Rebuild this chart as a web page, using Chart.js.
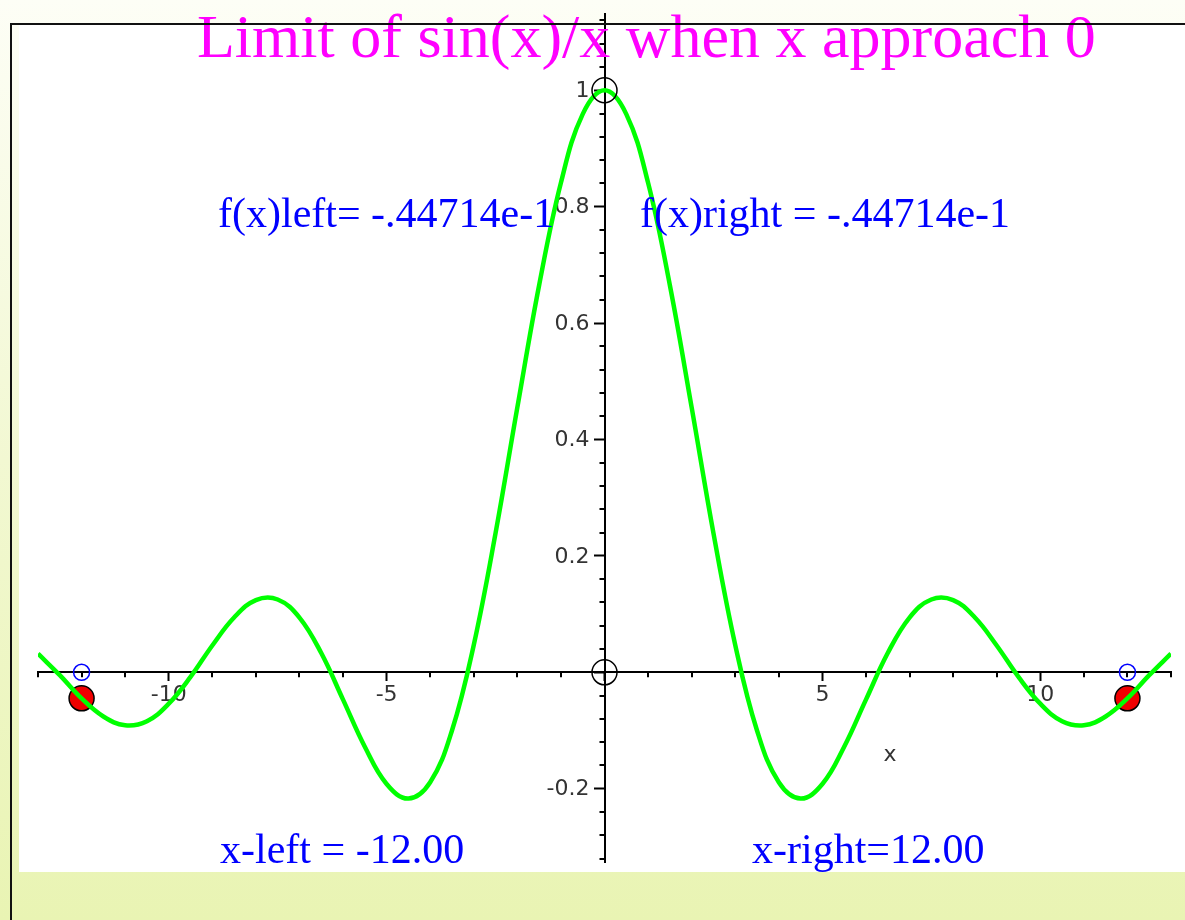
<!DOCTYPE html>
<html>
<head>
<meta charset="utf-8">
<title>Limit of sin(x)/x when x approach 0</title>
<script src="https://cdn.jsdelivr.net/npm/chart.js@4.4.1/dist/chart.umd.min.js"></script>
<style>
  html, body { margin: 0; padding: 0; background: #ffffff; }
  canvas { display: block; }
</style>
</head>
<body>
<canvas id="plot" width="1185" height="920"></canvas>
<script>
// Sample points of f(x) = sin(x)/x on [-13, 13]
const xValues = [
  -13, -12.5, -12, -11.5, -11, -10.5, -10, -9.5, -9, -8.5, -8, -7.5, -7,
  -6.5, -6, -5.5, -5, -4.5, -4, -3.5, -3, -2.5, -2, -1.5, -1, -0.5,
  0,
  0.5, 1, 1.5, 2, 2.5, 3, 3.5, 4, 4.5, 5, 5.5, 6, 6.5,
  7, 7.5, 8, 8.5, 9, 9.5, 10, 10.5, 11, 11.5, 12, 12.5, 13
];
const fValues = [
  0.032, -0.005, -0.045, -0.076, -0.091, -0.084, -0.054, -0.008, 0.046, 0.094, 0.124, 0.125, 0.094,
  0.033, -0.047, -0.128, -0.192, -0.217, -0.189, -0.100, 0.047, 0.239, 0.455, 0.665, 0.841, 0.959,
  1.000,
  0.959, 0.841, 0.665, 0.455, 0.239, 0.047, -0.100, -0.189, -0.217, -0.192, -0.128, -0.047, 0.033,
  0.094, 0.125, 0.124, 0.094, 0.046, -0.008, -0.054, -0.084, -0.091, -0.076, -0.045, -0.005, 0.032
];

// Probe positions and the function values reported for them
const xLeftText = '-12.00';
const xRightText = '12.00';
const fLeftText = '-.44714e-1';
const fRightText = '-.44714e-1';
const xLeft = Number(xLeftText);
const xRight = Number(xRightText);
const fLeft = Number(fLeftText);
const fRight = Number(fRightText);

// The limit point (0, 1) and the origin
const limitX = [0, 0];
const limitY = [1, 0];

// Axis ranges and tick steps
const xRange = [-13, 13];
const yRange = [-0.326, 1.131];
const xMajorStep = 5, xMinorStep = 1;
const yMajorStep = 0.2, yMinorStep = 0.04;

const curve = xValues.map((x, i) => ({ x: x, y: fValues[i] }));
const probes = [{ x: xLeft, y: fLeft }, { x: xRight, y: fRight }];
const probeFeet = [{ x: xLeft, y: 0 }, { x: xRight, y: 0 }];
const limitPts = limitX.map((x, i) => ({ x: x, y: limitY[i] }));

const serif = '"Liberation Serif", "Times New Roman", serif';
const sans = '"DejaVu Sans", sans-serif';
const tickFont = '22px ' + sans;

function dropPadding(scale) {
  scale.paddingTop = 0; scale.paddingBottom = 0;
  scale.paddingLeft = 0; scale.paddingRight = 0;
}

function yLabel(v) {
  return Math.abs(v) < 1e-9 ? '' : String(Number(v.toFixed(1)));
}

const backdrop = {
  id: 'backdrop',
  beforeDraw(chart) {
    const ctx = chart.ctx;
    const W = chart.width, H = chart.height;
    ctx.save();
    const g = ctx.createLinearGradient(0, 0, 0, H);
    g.addColorStop(0, '#fdfef6');
    g.addColorStop(0.5, '#f2f8d2');
    g.addColorStop(1, '#e9f4b3');
    ctx.fillStyle = g;
    ctx.fillRect(0, 0, W, H);
    ctx.fillStyle = '#ffffff';
    ctx.fillRect(19, 25, W - 19, 847);
    ctx.restore();
  },
  beforeDatasetsDraw(chart) {
    const ctx = chart.ctx;
    const xs = chart.scales.x, ys = chart.scales.y;
    const axisY = ys.getPixelForValue(0);
    const axisX = xs.getPixelForValue(0);
    ctx.save();
    // minor tick marks on both axes
    ctx.strokeStyle = '#000';
    ctx.lineWidth = 2;
    ctx.beginPath();
    for (let k = Math.ceil(xRange[0] / xMinorStep); k <= Math.floor(xRange[1] / xMinorStep); k++) {
      const v = k * xMinorStep;
      if (Math.abs(v / xMajorStep - Math.round(v / xMajorStep)) < 1e-9) continue;
      const px = Math.round(xs.getPixelForValue(v));
      ctx.moveTo(px, axisY);
      ctx.lineTo(px, axisY + 5);
    }
    for (let k = Math.ceil(yRange[0] / yMinorStep); k <= Math.floor(yRange[1] / yMinorStep); k++) {
      if (k % 5 === 0) continue;
      const py = Math.round(ys.getPixelForValue(k * yMinorStep));
      ctx.moveTo(axisX, py);
      ctx.lineTo(axisX - 5, py);
    }
    ctx.stroke();
    // value labels of the vertical axis, left of its major ticks
    ctx.fillStyle = '#333';
    ctx.font = tickFont;
    ctx.textAlign = 'right';
    ctx.textBaseline = 'middle';
    ys.ticks.forEach(t => {
      const label = yLabel(t.value);
      if (label) ctx.fillText(label, axisX - 15, ys.getPixelForValue(t.value) + 1);
    });
    ctx.restore();
  },
  afterDraw(chart) {
    const ctx = chart.ctx;
    const W = chart.width, H = chart.height;
    ctx.save();
    ctx.textAlign = 'left';
    ctx.textBaseline = 'alphabetic';

    ctx.fillStyle = '#ff00ff';
    ctx.font = '62px ' + serif;
    ctx.fillText('Limit of sin(x)/x when x approach 0', 197, 57);

    ctx.fillStyle = '#0000ff';
    ctx.font = '42px ' + serif;
    ctx.fillText('f(x)left= ' + fLeftText, 218, 227);
    ctx.fillText('f(x)right = ' + fRightText, 640, 227);
    ctx.fillText('x-left = ' + xLeftText, 220, 863);
    ctx.fillText('x-right=' + xRightText, 752, 863);

    ctx.fillStyle = '#333';
    ctx.font = '22px ' + sans;
    ctx.textAlign = 'center';
    ctx.textBaseline = 'middle';
    ctx.fillText('x', 890, 755);

    // frame
    ctx.fillStyle = '#111';
    ctx.fillRect(10, 23, W - 10, 2);
    ctx.fillRect(10, 23, 2, H - 23);
    ctx.restore();
  }
};

new Chart(document.getElementById('plot'), {
  type: 'scatter',
  data: {
    datasets: [
      {
        label: 'sin(x)/x',
        data: curve,
        showLine: true,
        borderColor: '#00ff00',
        borderWidth: 4.5,
        pointRadius: 0,
        tension: 0.4,
        order: 2
      },
      {
        label: 'f(x) at x-left / x-right',
        data: probes,
        pointRadius: 12.5,
        pointStyle: 'circle',
        backgroundColor: '#f00000',
        borderColor: '#000000',
        borderWidth: 1.5,
        order: 3
      },
      {
        label: 'x-left / x-right',
        data: probeFeet,
        pointRadius: 8,
        backgroundColor: 'rgba(0,0,0,0)',
        borderColor: '#0000ff',
        borderWidth: 1.5,
        order: 1
      },
      {
        label: 'limit',
        data: limitPts,
        pointRadius: 12.5,
        backgroundColor: 'rgba(0,0,0,0)',
        borderColor: '#000000',
        borderWidth: 1.5,
        order: 1
      }
    ]
  },
  options: {
    responsive: false,
    animation: false,
    events: [],
    layout: { padding: { left: 38, right: 9, top: 14, bottom: 58 } },
    plugins: {
      legend: { display: false },
      tooltip: { enabled: false },
      title: { display: false }
    },
    scales: {
      x: {
        type: 'linear',
        min: xRange[0],
        max: xRange[1],
        position: { y: 0 },
        afterFit: dropPadding,
        grid: { drawOnChartArea: false, drawTicks: true, tickLength: 8, tickWidth: 2, tickColor: '#000' },
        border: { display: true, color: '#000', width: 2 },
        ticks: {
          stepSize: xMajorStep,
          includeBounds: false,
          autoSkip: false,
          maxRotation: 0,
          padding: 2,
          color: '#333',
          font: { family: 'DejaVu Sans', size: 22 },
          callback: v => (v === 0 ? '' : String(v))
        }
      },
      y: {
        type: 'linear',
        min: yRange[0],
        max: yRange[1],
        position: { x: 0 },
        afterFit: dropPadding,
        grid: { drawOnChartArea: false, drawTicks: true, tickLength: 10, tickWidth: 2, tickColor: '#000' },
        border: { display: true, color: '#000', width: 2 },
        ticks: {
          stepSize: yMajorStep,
          includeBounds: false,
          autoSkip: false,
          display: false
        }
      }
    }
  },
  plugins: [backdrop]
});
</script>
</body>
</html>
